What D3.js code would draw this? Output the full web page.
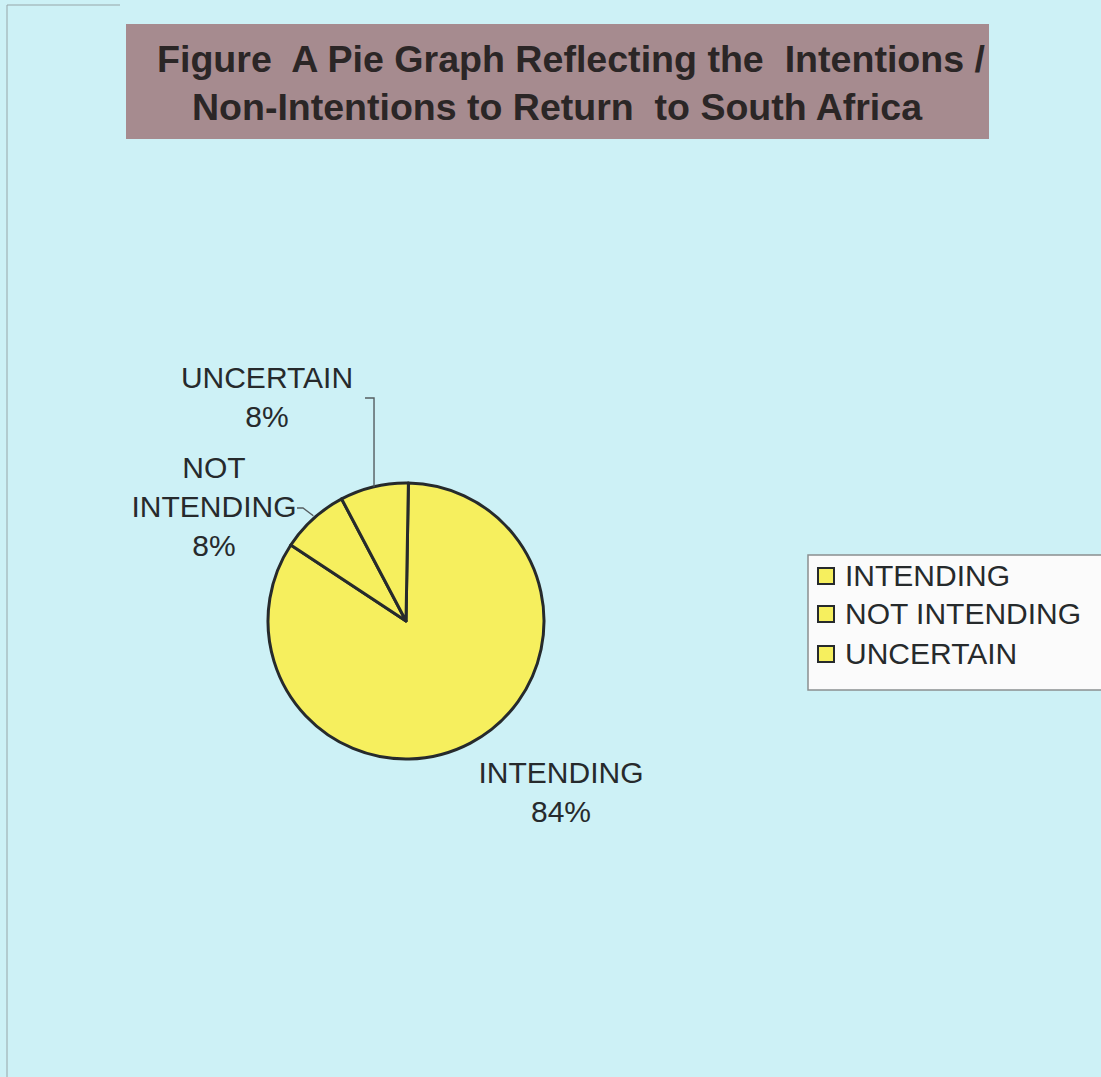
<!DOCTYPE html>
<html>
<head>
<meta charset="utf-8">
<script src="https://cdn.jsdelivr.net/npm/d3@7/dist/d3.min.js"></script>
<style>
  html, body { margin: 0; padding: 0; background: #cdf1f6; }
  svg { display: block; }
</style>
</head>
<body>
<svg id="chart" width="1101" height="1077"></svg>
<script>
// ---- data ----
const categories = ["INTENDING", "NOT INTENDING", "UNCERTAIN"];
const values = [84, 8, 8];
const percentLabels = ["84%", "8%", "8%"];
const titleLines = ["Figure  A Pie Graph Reflecting the  Intentions /", "Non-Intentions to Return  to South Africa"];

// ---- layout ----
const W = 1101, H = 1077;
const svg = d3.select("#chart");
const bg = "#cdf1f6";
const sliceFill = "#f6ef5e";
const ink = "#262a2c";

svg.append("rect").attr("width", W).attr("height", H).attr("fill", bg);
// scanned page edges
svg.append("line").attr("x1", 7).attr("x2", 7).attr("y1", 5).attr("y2", H)
  .attr("stroke", "#9aa9ad").attr("stroke-width", 1.5).attr("opacity", 0.7);
svg.append("line").attr("x1", 7).attr("x2", 120).attr("y1", 5).attr("y2", 5)
  .attr("stroke", "#9aa9ad").attr("stroke-width", 1.5).attr("opacity", 0.7);

// ---- title box ----
svg.append("rect").attr("x", 126).attr("y", 24).attr("width", 863).attr("height", 115)
  .attr("fill", "#a68b8f");
const titleG = svg.append("g").attr("font-family", "'Liberation Sans', Arial, sans-serif")
  .attr("font-weight", "bold").attr("font-size", 37).attr("fill", "#2b2626");
const titleSpecs = [{x: 157, y: 72, len: 828}, {x: 192, y: 120, len: 730}];
titleG.selectAll("text").data(titleLines).join("text")
  .attr("x", (d, i) => titleSpecs[i].x)
  .attr("y", (d, i) => titleSpecs[i].y)
  .attr("textLength", (d, i) => titleSpecs[i].len)
  .attr("lengthAdjust", "spacingAndGlyphs")
  .style("white-space", "pre")
  .attr("xml:space", "preserve")
  .text(d => d);

// ---- pie ----
const cx = 406, cy = 621, R = 138;
const rot = 1 * Math.PI / 180;
const pie = d3.pie().sort(null).value(d => d.value).startAngle(rot).endAngle(2 * Math.PI + rot);
const data = categories.map((c, i) => ({cat: c, value: values[i], pct: percentLabels[i]}));
const arcs = pie(data);
const arc = d3.arc().innerRadius(0).outerRadius(R);
const pieG = svg.append("g").attr("transform", `translate(${cx},${cy})`);
pieG.selectAll("path").data(arcs).join("path")
  .attr("d", arc)
  .attr("fill", sliceFill)
  .attr("stroke", ink)
  .attr("stroke-width", 3)
  .attr("stroke-linejoin", "round");

// ---- labels ----
const labelLayout = {
  "INTENDING":     {x: 561, y: 783, lines: ["INTENDING"]},
  "NOT INTENDING": {x: 214, y: 478, lines: ["NOT", "INTENDING"]},
  "UNCERTAIN":     {x: 267, y: 388, lines: ["UNCERTAIN"]}
};
const lineH = 39;
const labG = svg.append("g").attr("font-family", "'Liberation Sans', Arial, sans-serif")
  .attr("font-size", 30).attr("fill", ink).attr("text-anchor", "middle");
arcs.forEach(a => {
  const L = labelLayout[a.data.cat];
  const t = labG.append("text");
  const lines = L.lines.concat([a.data.pct]);
  lines.forEach((ln, k) => {
    t.append("tspan").attr("x", L.x).attr("y", L.y + k * lineH).text(ln);
  });
});

// leader lines (start at the outer edge of each small slice's mid angle)
const outerPt = a => {
  const m = (a.startAngle + a.endAngle) / 2;
  return [cx + R * Math.sin(m), cy - R * Math.cos(m)];
};
const leaderG = svg.append("g").attr("fill", "none").attr("stroke", "#555d60").attr("stroke-width", 1.4);
const aNot = arcs[1], aUnc = arcs[2];
const pUnc = outerPt(aUnc);
leaderG.append("path").attr("d", d3.line()([[pUnc[0], pUnc[1]], [pUnc[0], 398], [pUnc[0] - 9, 398]]));
const pNot = outerPt(aNot);
leaderG.append("path").attr("d", d3.line()([[pNot[0], pNot[1] - 3], [303, 508], [297, 508]]));

// ---- legend ----
const legG = svg.append("g");
legG.append("rect").attr("x", 808).attr("y", 555).attr("width", 300).attr("height", 135)
  .attr("fill", "#fbfbfb").attr("stroke", "#8a8f90").attr("stroke-width", 1.5);
const legRowY = [576, 614, 654];
const rows = legG.selectAll("g.row").data(data).join("g").attr("class", "row")
  .attr("transform", (d, i) => `translate(818,${legRowY[i]})`);
rows.append("rect").attr("x", 0).attr("y", -8).attr("width", 16).attr("height", 16)
  .attr("fill", sliceFill).attr("stroke", ink).attr("stroke-width", 2);
rows.append("text").attr("x", 27).attr("y", 10)
  .attr("font-family", "'Liberation Sans', Arial, sans-serif").attr("font-size", 30)
  .attr("fill", ink).text(d => d.cat);
</script>
</body>
</html>
